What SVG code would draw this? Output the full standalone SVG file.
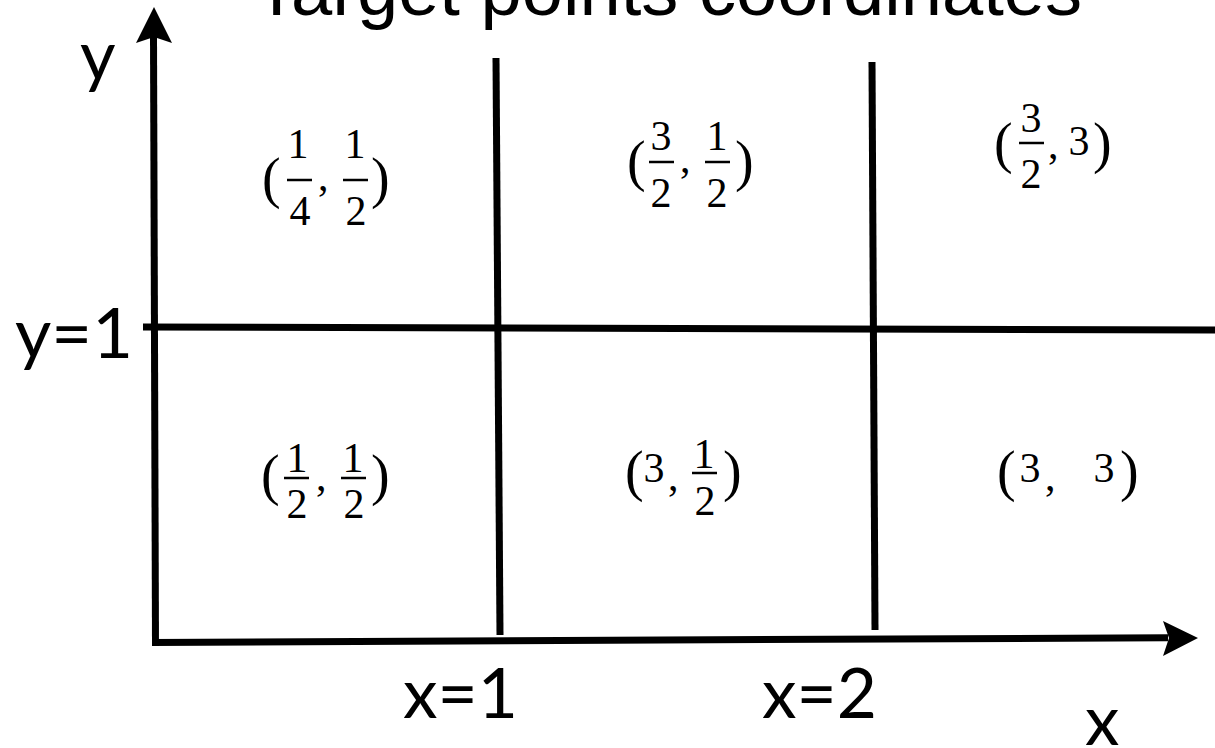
<svg xmlns="http://www.w3.org/2000/svg" width="1215" height="748" viewBox="0 0 1215 748">
<style>
.ln{stroke:#000;stroke-width:7;fill:none;stroke-linecap:butt}
.ah{fill:#000}
.lab{font-family:Lato,"Open Sans","Liberation Sans",sans-serif;fill:#000}
.title{font-family:"Liberation Sans",Arial,sans-serif;fill:#000}
.m{font-family:"Liberation Serif","DejaVu Serif",serif;fill:#000;font-size:42px}
.mc{font-family:"Liberation Serif","DejaVu Serif",serif;fill:#000;font-size:42px;text-anchor:middle}
.p{font-family:"Liberation Serif","DejaVu Serif",serif;fill:#000;font-size:56px}
.bar{stroke:#000;stroke-width:2.5}
</style>
<rect width="1215" height="748" fill="#fff"/>
<text id="title" class="title" x="254" y="15" font-size="75" textLength="828" lengthAdjust="spacingAndGlyphs">Target points coordinates</text>
<g id="connectors">
<line class="ln" x1="155.5" y1="646" x2="153.5" y2="36"/>
<polygon class="ah" points="154,7 172,43 154,37 136,43"/>
<line class="ln" x1="152" y1="642.5" x2="1168" y2="637.7"/>
<polygon class="ah" points="1198,638 1163,621 1169,638 1163,656"/>
<line class="ln" x1="496" y1="58" x2="500" y2="635"/>
<line class="ln" x1="872" y1="62" x2="875" y2="630"/>
<line class="ln" x1="143" y1="327" x2="1215" y2="330"/>
</g>
<g id="axis-labels">
<text class="lab" x="80" y="80" font-size="69">y</text>
<text class="lab" x="15" y="358" font-size="69" textLength="118" lengthAdjust="spacingAndGlyphs">y=1</text>
<text class="lab" x="403" y="718" font-size="69" textLength="115" lengthAdjust="spacingAndGlyphs">x=1</text>
<text class="lab" x="762" y="718" font-size="69" textLength="115" lengthAdjust="spacingAndGlyphs">x=2</text>
<text class="lab" x="1085" y="745" font-size="69">x</text>
</g>
<g id="pt-1-4-1-2">
<text class="p" x="262" y="197">(</text>
<text class="mc" x="298" y="158">1</text>
<line class="bar" x1="287" y1="180" x2="312" y2="180"/>
<text class="mc" x="300" y="225">4</text>
<text class="m" x="318" y="190" font-size="48">,</text>
<text class="mc" x="355" y="158">1</text>
<line class="bar" x1="343" y1="180" x2="368" y2="180"/>
<text class="mc" x="356" y="225">2</text>
<text class="p" x="371" y="197">)</text>
</g>
<g id="pt-3-2-1-2">
<text class="p" x="627" y="180">(</text>
<text class="mc" x="661" y="150">3</text>
<line class="bar" x1="649" y1="162" x2="674" y2="162"/>
<text class="mc" x="661" y="207">2</text>
<text class="m" x="680" y="172" font-size="48">,</text>
<text class="mc" x="717" y="150">1</text>
<line class="bar" x1="705" y1="162" x2="730" y2="162"/>
<text class="mc" x="717" y="207">2</text>
<text class="p" x="735" y="180">)</text>
</g>
<g id="pt-3-2-3">
<text class="p" x="994" y="162">(</text>
<text class="mc" x="1031" y="132">3</text>
<line class="bar" x1="1019" y1="143" x2="1044" y2="143"/>
<text class="mc" x="1031" y="188">2</text>
<text class="m" x="1048" y="158" font-size="48">,</text>
<text class="mc" x="1079" y="155">3</text>
<text class="p" x="1093" y="162">)</text>
</g>
<g id="pt-1-2-1-2">
<text class="p" x="261" y="494">(</text>
<text class="mc" x="297" y="472">1</text>
<line class="bar" x1="284" y1="478" x2="309" y2="478"/>
<text class="mc" x="297" y="518">2</text>
<text class="m" x="316" y="490" font-size="48">,</text>
<text class="mc" x="353" y="472">1</text>
<line class="bar" x1="341" y1="478" x2="366" y2="478"/>
<text class="mc" x="354" y="518">2</text>
<text class="p" x="371" y="494">)</text>
</g>
<g id="pt-3-1-2">
<text class="p" x="625" y="490">(</text>
<text class="mc" x="654" y="482">3</text>
<text class="m" x="668" y="490" font-size="48">,</text>
<text class="mc" x="704" y="468">1</text>
<line class="bar" x1="692" y1="473" x2="717" y2="473"/>
<text class="mc" x="705" y="515">2</text>
<text class="p" x="723" y="490">)</text>
</g>
<g id="pt-3-3">
<text class="p" x="997" y="490">(</text>
<text class="mc" x="1030" y="482">3</text>
<text class="m" x="1045" y="490" font-size="48">,</text>
<text class="mc" x="1104" y="482">3</text>
<text class="p" x="1120" y="490">)</text>
</g>
</svg>
